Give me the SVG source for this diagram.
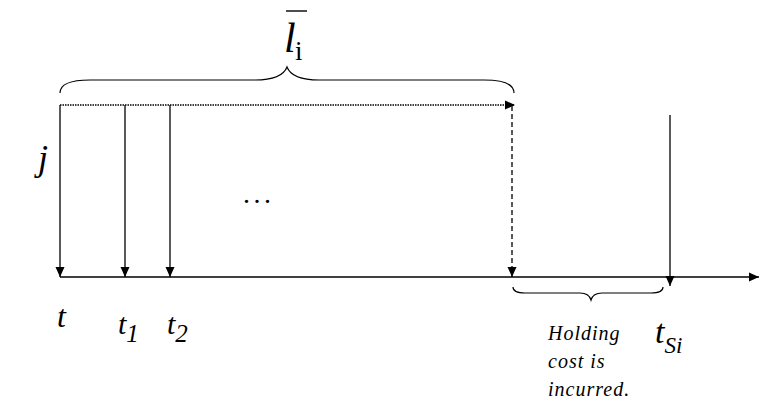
<svg xmlns="http://www.w3.org/2000/svg" width="761" height="403" viewBox="0 0 761 403">
  <style>
    .arr { stroke: #000; stroke-width: 1.3; fill: none; marker-end: url(#tri); }
    .brace { stroke: #000; stroke-width: 1.2; fill: none; }
    text { fill: #000; font-family: 'Liberation Serif', 'Times New Roman', serif; }
    .it { font-style: italic; }
  </style>
  <defs>
    <!-- solid triangular arrowhead shared by every connector -->
    <marker id="tri" viewBox="0 0 10 10" refX="10" refY="5" markerWidth="10" markerHeight="10" markerUnits="userSpaceOnUse" orient="auto">
      <path d="M0,0.5 L10,5 L0,9.5 Z" fill="#000"/>
    </marker>
  </defs>

  <g id="connectors">
    <!-- time axis -->
    <line class="arr" x1="60" y1="277" x2="759" y2="277"/>
    <!-- arrivals -->
    <line class="arr" x1="60" y1="105" x2="60" y2="277"/>
    <line class="arr" x1="125" y1="105" x2="125" y2="277"/>
    <line class="arr" x1="170" y1="105" x2="170" y2="277"/>
    <!-- horizon span -->
    <line class="arr" x1="60" y1="105" x2="515" y2="105" stroke-dasharray="1.5 1" stroke-width="1"/>
    <line class="arr" x1="512" y1="106" x2="512" y2="277" stroke-dasharray="5 3"/>
    <!-- due time -->
    <line class="arr" x1="670" y1="115" x2="670" y2="286"/>
  </g>

  <g id="brace-top">
    <path class="brace" d="M60,93 Q60,80 90,80 L255,80 Q282,80 287,67 Q292,80 319,80 L484,80 Q514,80 514,93"/>
  </g>
  <g id="label-li">
    <text class="it" x="284" y="52" font-size="42">l</text>
    <line x1="286" y1="11" x2="307" y2="11" stroke="#000" stroke-width="1.4"/>
    <text x="295" y="60" font-size="27">i</text>
  </g>

  <g id="label-j">
    <text class="it" x="38" y="170" font-size="36">j</text>
  </g>

  <g id="ellipsis">
    <text x="243" y="203" font-size="28" letter-spacing="3.5">...</text>
  </g>

  <g id="label-t">
    <text class="it" x="57" y="327" font-size="32">t</text>
  </g>
  <g id="label-t1">
    <text class="it" x="118" y="334" font-size="30">t<tspan font-size="25" dy="8">1</tspan></text>
  </g>
  <g id="label-t2">
    <text class="it" x="167" y="334" font-size="30">t<tspan font-size="25" dy="8">2</tspan></text>
  </g>

  <g id="brace-bottom">
    <path class="brace" d="M513,287 Q513,293 525,293 L580,293 Q589,293 591,300 Q593,293 602,293 L651,293 Q663,293 663,287"/>
  </g>
  <g id="holding-note">
    <text class="it" font-size="20" letter-spacing="1">
      <tspan x="548" y="340">Holding</tspan>
      <tspan x="548" y="368">cost is</tspan>
      <tspan x="548" y="396">incurred.</tspan>
    </text>
  </g>

  <g id="label-tsi">
    <text class="it" x="655" y="343" font-size="34">t<tspan font-size="23" dy="10">Si</tspan></text>
  </g>
</svg>
